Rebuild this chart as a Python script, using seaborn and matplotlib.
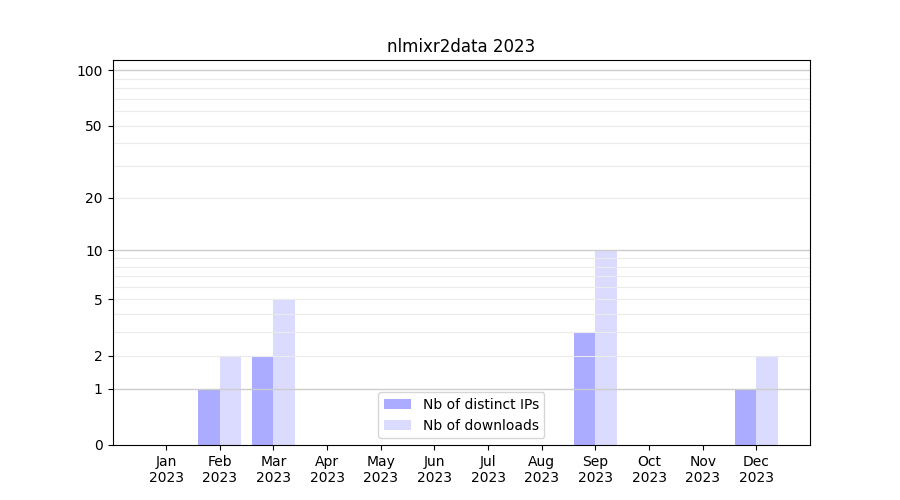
import numpy as np
import pandas as pd
import matplotlib
matplotlib.use("Agg")
import matplotlib.pyplot as plt
import seaborn as sns

months = ["Jan", "Feb", "Mar", "Apr", "May", "Jun", "Jul", "Aug", "Sep", "Oct", "Nov", "Dec"]
year = "2023"
distinct_ips = [0, 1, 2, 0, 0, 0, 0, 0, 3, 0, 0, 1]
downloads = [0, 2, 5, 0, 0, 0, 0, 0, 10, 0, 0, 2]
ytick_values = [0, 1, 2, 5, 10, 20, 50, 100]
title = "nlmixr2data 2023"
label_ips = "Nb of distinct IPs"
label_dl = "Nb of downloads"

plt.rcParams["font.family"] = ["DejaVu Sans"]

df = pd.DataFrame({
    "month": months * 2,
    "value": distinct_ips + downloads,
    "series": [label_ips] * 12 + [label_dl] * 12,
})

fig, ax = plt.subplots(figsize=(9, 5), dpi=100)
sns.barplot(data=df, x="month", y="value", hue="series", order=months,
            hue_order=[label_ips, label_dl], palette=["blue", "blue"],
            width=0.8, dodge=True, ax=ax, legend=False, saturation=1,
            errorbar=None)

n = len(months)
for i, p in enumerate(ax.patches):
    p.set_alpha(0.33 if i < n else 0.14)
    p.set_edgecolor("none")
    p.set_zorder(1)

fwd = lambda v: np.log10(1 + np.maximum(v, -0.999))
inv = lambda v: 10 ** v - 1
ax.set_yscale("function", functions=(fwd, inv))
ax.set_ylim(0, 113.5)
ax.set_xlim(-1, 12)

ax.set_yticks(ytick_values)
ax.set_yticklabels([str(v) for v in ytick_values])
ax.yaxis.set_minor_locator(matplotlib.ticker.NullLocator())
ax.set_xticks(range(n))
ax.set_xticklabels([f"{m}\n{year}" for m in months])
ax.tick_params(colors="black", labelcolor="black")

for v in [2, 3, 4, 5, 6, 7, 8, 9, 20, 30, 40, 50, 60, 70, 80, 90]:
    ax.axhline(v, color="#ebebeb", lw=0.8, zorder=2)
for v in [1, 10, 100]:
    ax.axhline(v, color="#cccccc", lw=1.0, zorder=2)

ax.set_xlabel("")
ax.set_ylabel("")
ax.set_title(title, color="black")
for s in ax.spines.values():
    s.set_visible(True)
    s.set_color("black")

from matplotlib.patches import Patch
handles = [Patch(facecolor="blue", alpha=0.33, edgecolor="none"),
           Patch(facecolor="blue", alpha=0.14, edgecolor="none")]
ax.legend(handles, [label_ips, label_dl], loc="lower center")

fig.subplots_adjust(left=0.125, right=0.9, top=0.88, bottom=0.11)
fig.savefig("out.png", dpi=100)
